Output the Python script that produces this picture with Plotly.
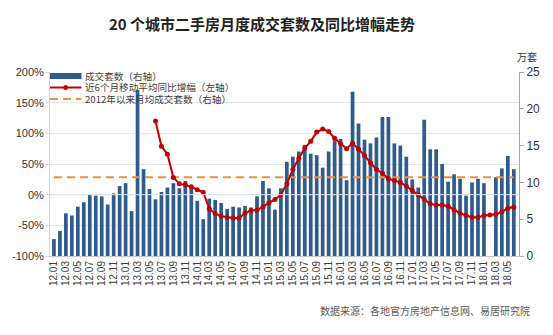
import plotly.graph_objects as go

# ---------------- data ----------------
MONTHS = (
    ["12.01", "12.02", "12.03", "12.04", "12.05", "12.06", "12.07", "12.08", "12.09", "12.10", "12.11", "12.12"]
    + ["13.01", "13.02", "13.03", "13.04", "13.05", "13.06", "13.07", "13.08", "13.09", "13.10", "13.11", "13.12"]
    + ["14.01", "14.02", "14.03", "14.04", "14.05", "14.06", "14.07", "14.08", "14.09", "14.10", "14.11", "14.12"]
    + ["15.01", "15.02", "15.03", "15.04", "15.05", "15.06", "15.07", "15.08", "15.09", "15.10", "15.11", "15.12"]
    + ["16.01", "16.02", "16.03", "16.04", "16.05", "16.06", "16.07", "16.08", "16.09", "16.10", "16.11", "16.12"]
    + ["17.01", "17.02", "17.03", "17.04", "17.05", "17.06", "17.07", "17.08", "17.09", "17.10", "17.11", "17.12"]
    + ["18.01", "18.02", "18.03", "18.04", "18.05", "18.06"]
)

# 成交套数（万套）
SALES = (
    [2.3, 3.4, 5.8, 5.5, 6.7, 7.3, 8.3, 8.2, 8.1, 7.0, 8.5, 9.5]
    + [9.9, 6.1, 22.6, 11.8, 9.1, 7.7, 8.7, 9.3, 9.9, 9.2, 10.2, 9.2]
    + [7.5, 5.0, 7.8, 7.6, 7.2, 6.4, 6.7, 6.6, 6.8, 6.6, 8.1, 10.2]
    + [9.2, 6.3, 9.2, 12.8, 13.5, 14.2, 15.1, 13.9, 13.7, 12.0, 14.2, 15.7]
    + [15.9, 10.3, 22.3, 18.0, 15.8, 15.3, 16.1, 18.9, 18.9, 15.3, 15.0, 13.5]
    + [10.4, 9.3, 18.5, 14.5, 14.5, 12.5, 10.1, 11.1, 10.5, 8.2, 10.0, 10.5]
    + [9.9, None, 10.7, 11.9, 13.6, 11.8]
)

# 近6个月移动平均同比增幅（%）
YOY_MA6 = (
    [None] * 17
    + [120, 79, 66, 28, 18, 16, 13]
    + [8, 4, -23, -31, -35, -37, -38, -38, -30, -26, -25, -20]
    + [-13, -8, 0, 18, 41, 59, 76, 87, 102, 107, 103, 92]
    + [83, 75, 84, 74, 64, 52, 41, 35, 26, 23, 20, 14]
    + [7, 0, -8, -15, -17, -17, -19, -25, -30, -34, -37, -37]
    + [-34, -33, -32, -28, -22, -20]
)

# 2012年以来月均成交套数（万套）
AVG_SALES = 10.7

TICK_LABELS = MONTHS[::2]
PCT_TICKS = [-100, -50, 0, 50, 100, 150, 200]
PCT_TEXT = ["-100%", "-50%", "0%", "50%", "100%", "150%", "200%"]
NUM_TICKS = [0, 5, 10, 15, 20, 25]

TITLE = "20 个城市二手房月度成交套数及同比增幅走势"
LEG_BAR = "成交套数（右轴）"
LEG_LINE = "近6个月移动平均同比增幅（左轴）"
LEG_AVG = "2012年以来月均成交套数（右轴）"
UNIT = "万套"
SOURCE = "数据来源：各地官方房地产信息网、易居研究院"

# ---------------- style ----------------
W, H = 553, 335
ML, MR, MT, MB = 42, 34, 72, 79
PW, PH = W - ML - MR, H - MT - MB

BLUE = "#2f5b8f"
RED = "#c00000"
ORANGE = "#ee8f3e"
CJK = "Noto Sans CJK SC"
LAT = "Arial, Liberation Sans, sans-serif"


def px(x):
    return (x - ML) / PW


def py(y):
    return (H - MB - y) / PH


fig = go.Figure()

fig.add_trace(go.Bar(
    x=MONTHS, y=SALES, name=LEG_BAR, marker_color=BLUE,
    marker_line_width=0, yaxis="y",
))
fig.add_trace(go.Scatter(
    x=[MONTHS[0], MONTHS[-1]], y=[AVG_SALES, AVG_SALES], name=LEG_AVG,
    mode="lines", line=dict(color=ORANGE, width=2, dash="8px,5px"), yaxis="y",
))
fig.add_trace(go.Scatter(
    x=MONTHS, y=YOY_MA6, name=LEG_LINE, mode="lines+markers",
    line=dict(color=RED, width=2), marker=dict(size=5, color=RED),
    yaxis="y2", connectgaps=False,
))

fig.update_layout(
    width=W, height=H,
    margin=dict(l=ML, r=MR, t=MT, b=MB),
    paper_bgcolor="white", plot_bgcolor="white",
    showlegend=False, bargap=0.38,
    font=dict(family=LAT, color="#333333"),
    xaxis=dict(
        type="category", range=[-0.66, 77.87],
        tickmode="array", tickvals=TICK_LABELS, ticktext=TICK_LABELS,
        tickangle=-90, tickfont=dict(size=10, color="#404040", family=LAT),
        showgrid=False, showline=True, linecolor="#c8c8c8", ticks="",
    ),
    yaxis=dict(
        side="right", range=[0, 25], tickmode="array", tickvals=NUM_TICKS,
        showgrid=False, zeroline=False, showline=True, linecolor="#a6a6a6",
        ticks="outside", ticklen=4, tickcolor="#a6a6a6",
        tickfont=dict(size=12, color="#333333", family=LAT),
    ),
    yaxis2=dict(
        overlaying="y", side="left", range=[-100, 200],
        tickmode="array", tickvals=PCT_TICKS, ticktext=PCT_TEXT,
        showgrid=True, gridcolor="#e6e6e6", gridwidth=1, zeroline=False,
        showline=True, linecolor="#d6d6d6", ticks="outside", ticklen=3,
        tickcolor="#d6d6d6",
        tickfont=dict(size=11, color="#333333", family=LAT),
    ),
)

# light 0% axis line over the bars
fig.add_shape(type="line", xref="paper", yref="y2", x0=0, x1=1, y0=0, y1=0,
              line=dict(color="#dbe3ee", width=1), layer="above")

# manual legend
fig.add_shape(type="rect", xref="paper", yref="paper",
              x0=px(42), x1=px(74), y0=py(79), y1=py(73),
              fillcolor=BLUE, line_width=0)
fig.add_shape(type="line", xref="paper", yref="paper",
              x0=px(42), x1=px(74), y0=py(87.5), y1=py(87.5),
              line=dict(color=RED, width=2))
fig.add_shape(type="circle", xref="paper", yref="paper",
              x0=px(55.5), x1=px(60.5), y0=py(90), y1=py(85),
              fillcolor=RED, line_width=0)
fig.add_shape(type="line", xref="paper", yref="paper",
              x0=px(42), x1=px(74), y0=py(99), y1=py(99),
              line=dict(color=ORANGE, width=2, dash="8px,5px"))

for txt, yy in [(LEG_BAR, 75.5), (LEG_LINE, 87.0), (LEG_AVG, 98.5)]:
    fig.add_annotation(text=txt, xref="paper", yref="paper", x=px(76), y=py(yy),
                       xanchor="left", yanchor="middle", showarrow=False,
                       font=dict(family=CJK, size=9.6, color="#404040"))

# title, unit, source
fig.add_annotation(text="<b>" + TITLE + "</b>", xref="paper", yref="paper",
                   x=px(258), y=py(23), xanchor="center", yanchor="middle",
                   showarrow=False, font=dict(family=CJK, size=15, color="#222222"))
fig.add_annotation(text=UNIT, xref="paper", yref="paper", x=px(527), y=py(56),
                   xanchor="center", yanchor="middle", showarrow=False,
                   font=dict(family=CJK, size=10, color="#333333"))
fig.add_annotation(text=SOURCE, xref="paper", yref="paper", x=px(532), y=py(310),
                   xanchor="right", yanchor="middle", showarrow=False,
                   font=dict(family=CJK, size=10, color="#595959"))

fig.write_html("out.html")
